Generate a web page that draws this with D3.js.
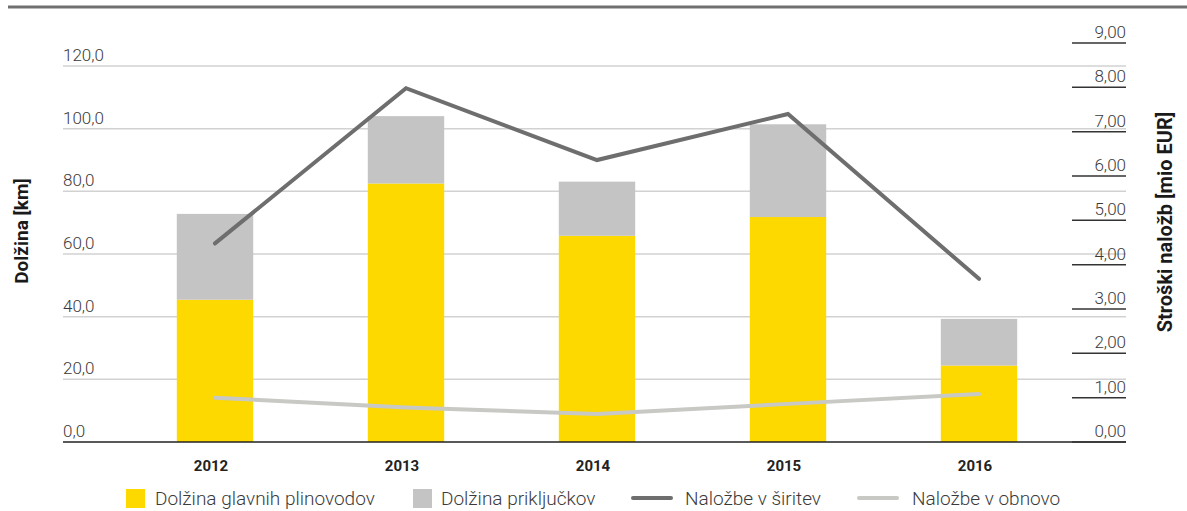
<!DOCTYPE html>
<html>
<head>
<meta charset="utf-8">
<script src="https://cdn.jsdelivr.net/npm/d3@7"></script>
<style>
  html, body { margin: 0; padding: 0; background: #fff; }
  svg { display: block; font-family: Roboto, "Open Sans", sans-serif; }
</style>
</head>
<body>
<svg id="chart" width="1187" height="511"></svg>
<script>
// Years on the x axis
const years = ["2012", "2013", "2014", "2015", "2016"];
// Lengths in km (stacked bars)
const mainPipelines = [45.4, 82.5, 65.8, 71.8, 24.4];
const connections = [27.4, 21.5, 17.3, 29.6, 14.9];
// Investments in mio EUR (lines, right axis)
const expansion = [4.48, 7.98, 6.36, 7.40, 3.68];
const renewal = [1.00, 0.78, 0.63, 0.86, 1.08];
// Axis ticks
const leftTicks = [0, 20, 40, 60, 80, 100, 120];
const rightTicks = [0, 1, 2, 3, 4, 5, 6, 7, 8, 9];

const labels = {
  left: "Dolžina [km]",
  right: "Stroški naložb [mio EUR]",
  series: ["Dolžina glavnih plinovodov", "Dolžina priključkov", "Naložbe v širitev", "Naložbe v obnovo"]
};

const colors = { main: "#FDD900", conn: "#C4C4C4", exp: "#6E6E6E", ren: "#C8C8C5" };

const svg = d3.select("#chart");
const fmt1 = d => d.toFixed(1).replace(".", ",");
const fmt2 = d => d.toFixed(2).replace(".", ",");

const gridLeft = 63, gridRight = 1126;
const x = d3.scaleBand().domain(years).range([119.5, 1074.5]).paddingInner(0.6).paddingOuter(0.3);
const yL = d3.scaleLinear().domain([0, 120]).range([442, 66]);
const yR = d3.scaleLinear().domain([0, 9]).range([442, 43]);

// top rule
svg.append("line").attr("x1", 8).attr("x2", 1187).attr("y1", 7).attr("y2", 7)
  .attr("stroke", "#707070").attr("stroke-width", 3);

// left gridlines + labels
const gl = svg.append("g");
gl.selectAll("line").data(leftTicks.filter(d => d > 0)).join("line")
  .attr("x1", gridLeft).attr("x2", gridRight)
  .attr("y1", d => yL(d)).attr("y2", d => yL(d))
  .attr("stroke", "#D2D2D2").attr("stroke-width", 1.5);
gl.selectAll("text").data(leftTicks).join("text")
  .attr("x", gridLeft).attr("y", d => yL(d) - 5)
  .attr("font-size", 17).attr("font-weight", 300).attr("fill", "#3a3a3a")
  .text(fmt1);

// stacked bars
const stackData = years.map((y, i) => ({ year: y, main: mainPipelines[i], conn: connections[i] }));
const series = d3.stack().keys(["main", "conn"])(stackData);
svg.append("g").selectAll("g").data(series).join("g")
  .attr("fill", d => d.key === "main" ? colors.main : colors.conn)
  .selectAll("rect").data(d => d).join("rect")
  .attr("x", d => x(d.data.year))
  .attr("width", x.bandwidth())
  .attr("y", d => yL(d[1]))
  .attr("height", d => yL(d[0]) - yL(d[1]));

// baseline
svg.append("line").attr("x1", gridLeft).attr("x2", gridRight).attr("y1", 442).attr("y2", 442)
  .attr("stroke", "#222").attr("stroke-width", 1.5);

// right axis: labels with short underline marks
const gr = svg.append("g");
gr.selectAll("line").data(rightTicks).join("line")
  .attr("x1", 1072).attr("x2", gridRight)
  .attr("y1", d => yR(d)).attr("y2", d => yR(d))
  .attr("stroke", "#333").attr("stroke-width", 1.5);
gr.selectAll("text").data(rightTicks).join("text")
  .attr("x", gridRight).attr("y", d => yR(d) - 5)
  .attr("text-anchor", "end")
  .attr("font-size", 17).attr("font-weight", 300).attr("fill", "#3a3a3a")
  .text(fmt2);

// lines
const cx = d => x(d) + x.bandwidth() / 2;
const line = d3.line().x(d => cx(d.year)).y(d => yR(d.v));
svg.append("path")
  .datum(years.map((y, i) => ({ year: y, v: renewal[i] })))
  .attr("d", line).attr("fill", "none")
  .attr("stroke", colors.ren).attr("stroke-width", 4).attr("stroke-linecap", "round");
svg.append("path")
  .datum(years.map((y, i) => ({ year: y, v: expansion[i] })))
  .attr("d", line).attr("fill", "none")
  .attr("stroke", colors.exp).attr("stroke-width", 4).attr("stroke-linecap", "round");

// x axis labels
svg.append("g").selectAll("text").data(years).join("text")
  .attr("x", d => cx(d) - 4).attr("y", 471)
  .attr("text-anchor", "middle")
  .attr("font-size", 15).attr("font-weight", 700).attr("fill", "#222")
  .text(d => d);

// axis titles
svg.append("text")
  .attr("transform", "translate(28,231) rotate(-90)")
  .attr("text-anchor", "middle")
  .attr("font-size", 19).attr("font-weight", 700).attr("fill", "#1a1a1a")
  .text(labels.left);
svg.append("text")
  .attr("transform", "translate(1172,222) rotate(-90)")
  .attr("text-anchor", "middle")
  .attr("font-size", 20).attr("font-weight", 700).attr("fill", "#1a1a1a")
  .text(labels.right);

// legend
const lg = svg.append("g").attr("font-size", 19).attr("font-weight", 300).attr("fill", "#3a3a3a");
lg.append("rect").attr("x", 126).attr("y", 489).attr("width", 19).attr("height", 19).attr("fill", colors.main);
lg.append("text").attr("x", 155).attr("y", 505).text(labels.series[0]);
lg.append("rect").attr("x", 413).attr("y", 489).attr("width", 19).attr("height", 19).attr("fill", colors.conn);
lg.append("text").attr("x", 441).attr("y", 505).text(labels.series[1]);
lg.append("line").attr("x1", 633).attr("x2", 671).attr("y1", 498).attr("y2", 498)
  .attr("stroke", colors.exp).attr("stroke-width", 4).attr("stroke-linecap", "round");
lg.append("text").attr("x", 685).attr("y", 505).text(labels.series[2]);
lg.append("line").attr("x1", 859).attr("x2", 897).attr("y1", 498).attr("y2", 498)
  .attr("stroke", colors.ren).attr("stroke-width", 4).attr("stroke-linecap", "round");
lg.append("text").attr("x", 912).attr("y", 505).text(labels.series[3]);
</script>
</body>
</html>
